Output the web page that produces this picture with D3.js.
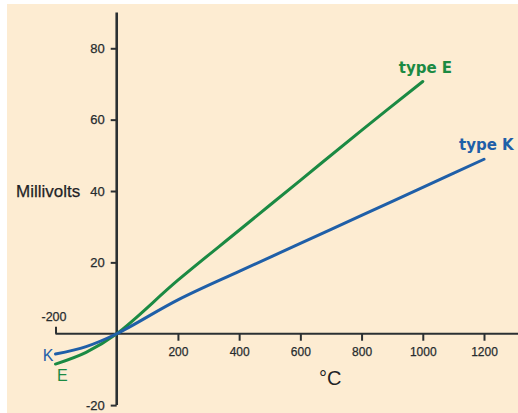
<!DOCTYPE html>
<html><head><meta charset="utf-8">
<script src="https://cdn.jsdelivr.net/npm/d3@7"></script>
<style>html,body{margin:0;padding:0;background:#fff;} svg{display:block;}</style>
</head><body>
<script>
// Data (°C -> mV)
const tempsE = [-200, -100, 0, 200, 400, 600, 800, 1000];
const mvE    = [-8.5, -5.2, 0, 15.0, 29.0, 43.0, 57.0, 70.7];
const tempsK = [-200, -100, 0, 200, 400, 600, 800, 1000, 1200];
const mvK    = [-5.7, -3.6, 0, 9.5, 17.5, 25.3, 33.2, 41.0, 48.9];
const xTickValues = [200, 400, 600, 800, 1000, 1200];
const xNegTick = [-200];
const yTickValues = [-20, 20, 40, 60, 80];
const seriesNames = ["type E", "type K"];
const shortNames = ["E", "K"];

const W = 518, H = 413;
const colE = "#1b8a43", colK = "#1f5fa8", axisCol = "#2b3033", bg = "#fdecd2";

const svg = d3.select("body").append("svg").attr("width", W).attr("height", H);
svg.append("rect").attr("x", 7).attr("y", 4).attr("width", W - 7).attr("height", H - 4).attr("fill", bg);

const x = d3.scaleLinear().domain([-200, 1200]).range([55.5, 484]);
const y = d3.scaleLinear().domain([-20, 90]).range([405.1, 12.6]);

const font = "'Liberation Sans', Arial, sans-serif";
const fmt = d => String(d);

// x axis line
svg.append("line").attr("x1", x(-200)).attr("x2", W).attr("y1", y(0)).attr("y2", y(0))
  .attr("stroke", axisCol).attr("stroke-width", 1.8);

const gx = svg.append("g").attr("transform", `translate(0,${y(0)})`)
  .call(d3.axisBottom(x).tickValues(xTickValues).tickSize(7).tickPadding(7).tickFormat(fmt));
gx.select(".domain").remove();
const gxn = svg.append("g").attr("transform", `translate(0,${y(0)})`)
  .call(d3.axisTop(x).tickValues(xNegTick).tickSize(7).tickPadding(6).tickFormat(fmt));
gxn.select(".domain").remove();
gxn.selectAll("text").attr("dx", -2);

// y axis
svg.append("line").attr("x1", x(0)).attr("x2", x(0)).attr("y1", y(90)).attr("y2", y(-20))
  .attr("stroke", axisCol).attr("stroke-width", 2.6);
const gy = svg.append("g").attr("transform", `translate(${x(0)},0)`)
  .call(d3.axisLeft(y).tickValues(yTickValues).tickSize(6).tickPadding(6).tickFormat(fmt));
gy.select(".domain").remove();

[gx, gxn, gy].forEach(g => {
  g.selectAll("line").attr("stroke", axisCol).attr("stroke-width", 2);
  g.selectAll("text").attr("fill", "#262b2e").attr("stroke", "#262b2e").attr("stroke-width", 0.25)
    .style("font-family", font);
});
gx.selectAll("text").style("font-size", "12px");
gxn.selectAll("text").style("font-size", "12.5px");
gy.selectAll("text").style("font-size", "13px");

// curves
const line = d3.line().x(d => x(d[0])).y(d => y(d[1])).curve(d3.curveCatmullRom.alpha(0.5));
const dataE = tempsE.map((t, i) => [t, mvE[i]]);
const dataK = tempsK.map((t, i) => [t, mvK[i]]);
svg.append("path").datum(dataE).attr("d", line).attr("fill", "none")
  .attr("stroke", colE).attr("stroke-width", 3).attr("stroke-linecap", "round");
svg.append("path").datum(dataK).attr("d", line).attr("fill", "none")
  .attr("stroke", colK).attr("stroke-width", 3).attr("stroke-linecap", "round");

// end labels
const endE = dataE[dataE.length - 1], endK = dataK[dataK.length - 1];
svg.append("text").attr("x", x(endE[0]) - 24).attr("y", y(endE[1]) - 8.5)
  .text(seriesNames[0]).attr("fill", colE)
  .style("font-family", "'DejaVu Sans', sans-serif").style("font-weight", "bold").style("font-size", "15px");
svg.append("text").attr("x", x(endK[0]) - 25).attr("y", y(endK[1]) - 9)
  .text(seriesNames[1]).attr("fill", colK)
  .style("font-family", "'DejaVu Sans', sans-serif").style("font-weight", "bold").style("font-size", "15px");

// start labels
const stE = dataE[0], stK = dataK[0];
svg.append("text").attr("x", x(stK[0]) - 2).attr("y", y(stK[1]) + 7).attr("text-anchor", "end")
  .text(shortNames[1]).attr("fill", colK).style("font-family", font).style("font-size", "16px");
svg.append("text").attr("x", x(stE[0]) + 1.5).attr("y", y(stE[1]) + 17)
  .text(shortNames[0]).attr("fill", colE).style("font-family", font).style("font-size", "16px");

// axis titles
svg.append("text").attr("x", 16).attr("y", 196.5).text("Millivolts")
  .attr("fill", "#1f2326").attr("stroke", "#1f2326").attr("stroke-width", 0.25)
  .style("font-family", font).style("font-size", "17px");
svg.append("text").attr("x", 319).attr("y", 385).text("°C")
  .attr("fill", "#1f2326").style("font-family", font).style("font-size", "20px");
</script>
</body></html>
